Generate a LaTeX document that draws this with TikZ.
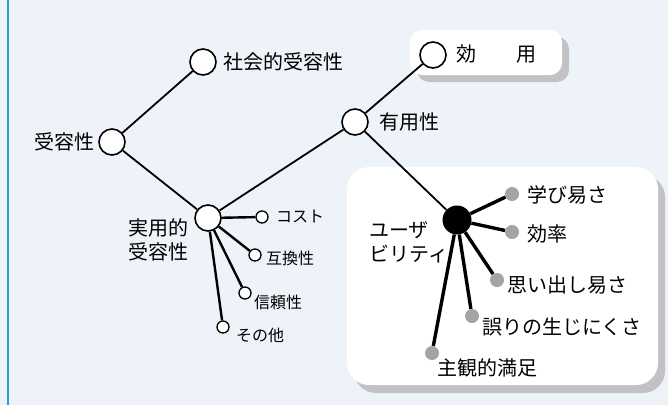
\documentclass[tikz,border=0pt]{standalone}
\usepackage{fontspec}
\setmainfont{Noto Sans CJK JP}
\usetikzlibrary{calc}
\definecolor{bgblue}{HTML}{EEF3FA}
\definecolor{edgeblue}{HTML}{2E9BD6}
\definecolor{dotgrey}{HTML}{A3A3A8}
\definecolor{shadowgrey}{HTML}{C2C2C6}
\tikzstyle{opn}=[circle, draw, line width=1.6pt, fill=white, minimum size=26pt, inner sep=0pt]
\tikzstyle{sml}=[circle, draw, line width=1.3pt, fill=white, minimum size=12pt, inner sep=0pt]
\tikzstyle{gdot}=[circle, fill=dotgrey, minimum size=14pt, inner sep=0pt]
\tikzstyle{hub}=[circle, fill=black, minimum size=29pt, inner sep=0pt]
\tikzstyle{lbl}=[font=\fontsize{20}{24}\selectfont, inner sep=0pt, anchor=west]
\tikzstyle{tiny}=[font=\fontsize{16}{19}\selectfont, inner sep=0pt, anchor=west]
\tikzstyle{branch}=[line width=1.8pt]
\tikzstyle{twig}=[line width=2.4pt]
\tikzstyle{spoke}=[line width=3.4pt]

\begin{document}
\begin{tikzpicture}[x=1pt,y=-1pt]
      \fill[bgblue] (0,0) rectangle (668,405);
      \useasboundingbox (0,0) rectangle (668,405);
      \draw[edgeblue, line width=2pt] (8,0) -- (8,405);
      % white cards with shadow
      \fill[shadowgrey, rounded corners=12pt] (417,37) rectangle (569,82);
      \fill[white, rounded corners=12pt] (410,30) rectangle (562,75);
      \fill[shadowgrey, rounded corners=22pt] (354,175) rectangle (665,393);
      \fill[white, rounded corners=22pt] (347,167) rectangle (658,385);
      % tree
      \node [opn] (acc) at (112,142) {};
      \node [opn] (soc) at (203,62) {};
      \node [opn] (prac) at (208,218) {};
      \node [opn] (use) at (355,122) {};
      \node [opn] (util) at (433,55) {};
      \node [hub] (usab) at (457,220) {};
      \node [sml] (cost) at (262,217) {};
      \node [sml] (comp) at (255,255) {};
      \node [sml] (rel) at (245,293) {};
      \node [sml] (oth) at (223,327) {};
      \node [gdot] (learn) at (512,194) {};
      \node [gdot] (eff) at (512,232) {};
      \node [gdot] (mem) at (497,280) {};
      \node [gdot] (err) at (472,316) {};
      \node [gdot] (sat) at (432,353) {};
      % labels
      \node [lbl, anchor=east] (accl) at (95,142) {受容性};
      \node [lbl] (socl) at (223,62) {社会的受容性};
      \node [lbl, align=left] (pracl) at (128,240) {実用的\\受容性};
      \node [lbl] (usel) at (379,122) {有用性};
      \node [lbl] (utill) at (456,54) {効　　用};
      \node [lbl, align=left] (usabl) at (369,242) {ユーザ\\ビリティ};
      \node [tiny] (costl) at (276,217) {コスト};
      \node [tiny] (compl) at (266,258) {互換性};
      \node [tiny] (rell) at (254,302) {信頼性};
      \node [tiny] (othl) at (236,335) {その他};
      \node [lbl] (learnl) at (527,195) {学び易さ};
      \node [lbl] (effl) at (527,234) {効率};
      \node [lbl] (meml) at (507,285) {思い出し易さ};
      \node [lbl] (errl) at (482,327) {誤りの生じにくさ};
      \node [lbl] (satl) at (437,368) {主観的満足};
      % connectors
      \draw[branch] (acc) -- (soc);
      \draw[branch] (acc) -- (prac);
      \draw[branch] (prac) -- (use);
      \draw[branch] (use) -- (util);
      \draw[branch] (use) -- (usab);
      \draw[twig] (prac) -- (cost);
      \draw[twig] (prac) -- (comp);
      \draw[twig] (prac) -- (rel);
      \draw[twig] (prac) -- (oth);
      \draw[spoke] (usab) -- (learn);
      \draw[spoke] (usab) -- (eff);
      \draw[spoke] (usab) -- (mem);
      \draw[spoke] (usab) -- (err);
      \draw[spoke] (usab) -- (sat);
\end{tikzpicture}
\end{document}
